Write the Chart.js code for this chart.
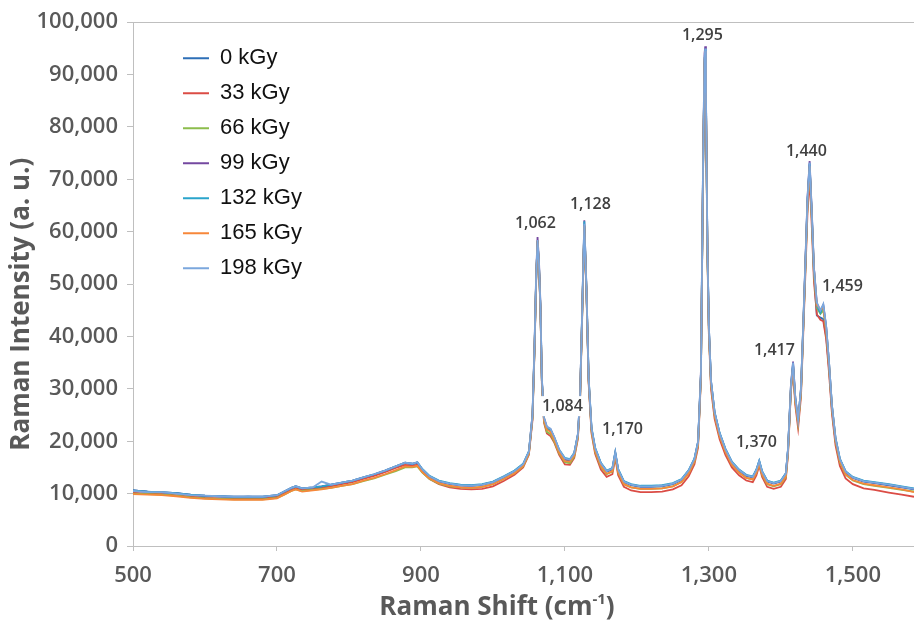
<!DOCTYPE html>
<html>
<head>
<meta charset="utf-8">
<script src="https://cdn.jsdelivr.net/npm/chart.js@4.4.1/dist/chart.umd.min.js"></script>
<style>
html,body{margin:0;padding:0;background:#fff;}
#wrap{width:914px;height:626px;position:relative;}
</style>
</head>
<body>
<div id="wrap"><canvas id="c" width="914" height="626"></canvas></div>
<script>
// ---------- DATA ----------
const ramanShift = [
  500,520,540,560,580,600,620,640,660,680,
  700,710,720,726,735,750,762,775,790,805,
  820,835,850,865,878,888,895,902,912,925,
  940,955,970,985,1000,1015,1030,1042,1050,1055,
  1058,1060,1062,1064,1066,1068,1071,1075,1080,1085,
  1092,1100,1107,1113,1118,1121,1124,1127,1130,1133,
  1137,1142,1150,1158,1166,1170,1174,1182,1192,1205,
  1220,1235,1250,1262,1272,1280,1285,1289,1292,1294,
  1295,1296,1298,1300,1303,1308,1315,1323,1332,1342,
  1352,1361,1366,1370,1374,1381,1390,1400,1407,1410,
  1414,1417,1420,1424,1428,1431,1434,1437,1440,1443,
  1446,1450,1455,1459,1463,1467,1471,1476,1482,1490,
  1500,1515,1530,1550,1568,1585
];

const seriesNames = ['0 kGy','33 kGy','66 kGy','99 kGy','132 kGy','165 kGy','198 kGy'];
const seriesColors = ['#2e6fb7','#db4c45','#8cbd4c','#7448a0','#2aa4cb','#f7873a','#7ba7dd'];

const s0kGy = [
  10600,10400,10200,10100,9700,9500,9500,9300,9400,9300,
  9600,10300,11000,11300,10900,11100,11300,11600,12000,12400,
  13000,13600,14300,15100,15800,15600,15800,14500,13200,12300,
  11800,11600,11500,11700,12200,13100,14300,15500,17800,24500,
  38500,50500,58300,53500,45500,31500,24000,22300,22000,20500,
  18100,16500,16300,17500,21000,27500,44000,61200,48500,31500,
  22300,18500,15700,14200,14600,17600,14500,12200,11600,11300,
  11300,11400,11800,12600,14300,16500,19600,32500,72500,92500,
  94500,85500,56500,41500,31000,25200,21300,18300,15900,14400,
  13400,13100,14400,16000,14100,12300,11900,12300,13700,18300,
  30000,34600,28000,23600,29500,41000,53000,65500,72800,63000,
  52000,44000,43600,43300,40000,33800,26000,20000,16300,14000,
  13000,12300,12000,11600,11200,10800
];
const s33kGy = [
  10200,10000,9900,9700,9400,9200,9100,9100,9000,9100,
  9400,10000,10700,11000,10700,10900,11100,11400,11800,12200,
  12800,13400,14100,14900,15500,15300,15500,14100,12800,11800,
  11200,10900,10800,10900,11400,12400,13600,15000,17400,24000,
  38000,50000,58000,53000,45000,31000,23500,21500,21000,19800,
  17400,15600,15500,16800,20400,27000,43500,60500,48000,31000,
  21500,17600,14600,13200,13700,16800,13500,11300,10600,10300,
  10300,10400,10800,11600,13300,15600,18800,32000,71500,91500,
  93500,84500,55500,40500,30000,24300,20400,17400,15000,13500,
  12500,12200,13500,15300,13200,11300,10900,11300,12800,17500,
  29500,33500,27000,22500,28500,40000,51500,63500,70500,61000,
  50500,44200,43200,42900,39500,33000,25300,19200,15300,12900,
  11800,11000,10700,10200,9800,9400
];
const s66kGy = [
  10000,9900,9800,9600,9300,9100,9000,8900,8900,8900,
  9200,9800,10500,10800,10500,10700,10900,11100,11500,11800,
  12400,12900,13600,14300,15000,15000,15200,14000,12800,11900,
  11400,11200,11100,11300,11800,12800,13900,15200,17600,24500,
  38500,50500,58200,53500,45500,31500,23800,21800,21400,20000,
  17700,16000,15800,17100,20700,27500,44000,61000,48500,31500,
  21900,18000,15100,13700,14200,17200,14000,11800,11200,10900,
  10900,11000,11400,12200,13900,16100,19300,32500,72000,92000,
  94000,85000,56000,41000,30800,24900,21000,18000,15500,14000,
  13000,12700,14000,15700,13600,11800,11400,11800,13200,17900,
  29900,34200,27700,23300,29200,40800,52500,65000,72500,62500,
  52000,45500,44300,45000,41000,34200,26200,20000,16000,13600,
  12500,11800,11500,11100,10700,10400
];
const s99kGy = [
  10600,10400,10300,10100,9800,9600,9500,9400,9400,9400,
  9700,10400,11100,11400,11000,11200,11400,11700,12100,12500,
  13100,13700,14400,15200,15900,15700,16000,14600,13300,12400,
  11900,11600,11500,11700,12200,13200,14300,15600,18000,25200,
  39500,51500,59000,54500,46500,32000,24500,22700,22300,20800,
  18300,16600,16400,17700,21300,28200,44800,62200,49200,32000,
  22400,18600,15800,14300,14800,17900,14600,12300,11700,11400,
  11400,11500,11900,12700,14400,16600,19900,33500,74000,94000,
  95400,86500,57500,42000,31500,25500,21500,18500,16000,14500,
  13500,13200,14500,16200,14200,12400,12000,12400,13900,18600,
  30800,35200,28600,24000,30200,41800,54000,66500,73600,64000,
  53200,46300,44800,46000,41800,34900,26800,20500,16600,14200,
  13100,12400,12100,11700,11300,10900
];
const s132kGy = [
  10600,10400,10300,10100,9800,9600,9500,9400,9400,9400,
  9700,10400,11100,11400,11000,11200,11400,11700,12100,12500,
  13100,13700,14400,15200,15900,15700,16000,14700,13400,12500,
  12000,11700,11600,11800,12300,13300,14400,15700,18100,25000,
  39000,51000,58200,53800,45800,31800,24300,22500,22200,20800,
  18400,16800,16600,17800,21300,28000,44700,62000,49000,32200,
  22600,18800,15900,14400,14900,17900,14700,12400,11800,11500,
  11500,11600,12000,12800,14500,16700,19900,33000,73000,92800,
  94800,86000,57000,42000,31500,25600,21600,18600,16100,14600,
  13600,13300,14600,16300,14300,12500,12100,12500,13900,18500,
  30500,34800,28300,24000,30000,41500,53500,66000,73000,63500,
  53000,45800,44500,45800,41800,34900,26900,20700,16700,14300,
  13200,12500,12200,11800,11400,11000
];
const s165kGy = [
  9900,9800,9700,9500,9200,9000,8900,8800,8800,8800,
  9100,9800,10500,10800,10400,10600,10800,11100,11500,11800,
  12500,13000,13700,14500,15200,15100,15300,14100,12900,12000,
  11500,11200,11100,11300,11800,12800,13900,15300,17700,24700,
  38700,50700,58300,53500,45500,31500,24000,22200,21800,20300,
  17900,16200,16100,17300,20900,27700,44200,61200,48700,31700,
  22000,18200,15300,13800,14300,17300,14100,11800,11200,10900,
  10900,11000,11400,12200,13900,16200,19400,32500,72500,92500,
  94500,85500,56500,41300,30900,25000,21000,18000,15500,14000,
  13000,12700,14000,15700,13700,11900,11500,11900,13300,18000,
  30000,34300,27800,23500,29500,41000,53000,65300,72500,63000,
  52800,46000,45200,45500,41300,34500,26400,20200,16200,13700,
  12600,11900,11600,11200,10800,10300
];
const s198kGy = [
  10500,10300,10300,10000,9700,9600,9500,9400,9400,9400,
  9700,10400,11100,11400,11000,11200,12300,11700,12100,12500,
  13100,13700,14400,15200,15900,15700,16000,14600,13300,12400,
  11900,11600,11500,11700,12200,13200,14300,15600,18000,25000,
  39000,51000,58400,54000,46000,32000,24500,22800,22400,20900,
  18400,16700,16500,17700,21200,28000,44500,61500,49000,32000,
  22500,18700,15800,14300,14800,17800,14600,12300,11700,11400,
  11400,11500,11900,12700,14400,16600,19800,33000,73000,93000,
  95000,86000,57000,42000,31500,25500,21500,18500,16000,14500,
  13500,13200,14500,16200,14200,12400,12000,12400,13800,18500,
  30500,35000,28500,24000,30000,41500,53500,66000,73200,63500,
  53000,46500,45000,46200,42000,35000,26800,20500,16600,14200,
  13100,12400,12100,11700,11300,10900
];

const xTickValues = [500,700,900,1100,1300,1500];
const yTickValues = [0,10000,20000,30000,40000,50000,60000,70000,80000,90000,100000];

const peakLabels = ['1,062','1,084','1,128','1,170','1,295','1,370','1,417','1,440','1,459'];
const peakLabelShift = [1059,1096.5,1135.5,1180,1291,1366,1391,1435.5,1485.5];
const peakLabelIntensity = [61500,26700,65300,22300,97500,19800,37300,75400,49500];

const xTitle = 'Raman Shift (cm';
const xTitleSup = '-1';
const yTitle = 'Raman Intensity (a. u.)';

// ---------- CHART ----------
const seriesValues = [s0kGy, s33kGy, s66kGy, s99kGy, s132kGy, s165kGy, s198kGy];

const datasets = seriesNames.map((name, i) => ({
  label: name,
  data: ramanShift.map((x, j) => ({ x: x, y: seriesValues[i][j] })),
  borderColor: seriesColors[i],
  backgroundColor: seriesColors[i],
  borderWidth: 1.8,
  pointRadius: 0,
  tension: 0,
  order: seriesNames.length - 1 - i
}));

const TICK_FONT = { family: '"Open Sans", sans-serif', size: 22, weight: '600' };
const GREY = '#595959';
const AXIS = '#bfbfbf';

const legendPlacer = {
  id: 'legendPlacer',
  afterLayout(chart) {
    const lg = chart.legend;
    if (!lg) return;
    const ca = chart.chartArea;
    const w = lg.width;
    lg.left = ca.left + 37;
    lg.top = ca.top + 12;
    lg.right = lg.left + w;
    lg.bottom = ca.bottom;
  }
};

const peakAnnotations = {
  id: 'peakAnnotations',
  afterDatasetsDraw(chart) {
    const ctx = chart.ctx;
    const xs = chart.scales.x, ys = chart.scales.y;
    ctx.save();
    ctx.font = '600 16px "Open Sans", sans-serif';
    ctx.textAlign = 'center';
    ctx.textBaseline = 'middle';
    peakLabels.forEach((txt, i) => {
      const px = xs.getPixelForValue(peakLabelShift[i]);
      const py = ys.getPixelForValue(peakLabelIntensity[i]);
      const w = ctx.measureText(txt).width;
      ctx.fillStyle = '#ffffff';
      ctx.fillRect(px - w / 2 - 2, py - 10, w + 4, 20);
      ctx.fillStyle = '#404040';
      ctx.fillText(txt, px, py);
    });
    ctx.restore();
  }
};

const axisTitles = {
  id: 'axisTitles',
  afterDraw(chart) {
    const ctx = chart.ctx;
    const ca = chart.chartArea;
    ctx.save();
    ctx.fillStyle = GREY;
    const mainFont = 'bold 26px "Open Sans", sans-serif';
    const supFont = 'bold 15px "Open Sans", sans-serif';
    ctx.font = mainFont;
    const wMain = ctx.measureText(xTitle).width;
    ctx.font = supFont;
    const wSup = ctx.measureText(xTitleSup).width;
    ctx.font = mainFont;
    const wClose = ctx.measureText(')').width;
    const total = wMain + wSup + wClose;
    const cx = ca.left + 364;
    const baseY = chart.height - 11;
    const x0 = cx - total / 2;
    ctx.textAlign = 'left';
    ctx.textBaseline = 'alphabetic';
    ctx.fillText(xTitle, x0, baseY);
    ctx.font = supFont;
    ctx.fillText(xTitleSup, x0 + wMain, baseY - 11);
    ctx.font = mainFont;
    ctx.fillText(')', x0 + wMain + wSup, baseY);
    ctx.translate(22, ca.top + 282);
    ctx.rotate(-Math.PI / 2);
    ctx.textAlign = 'center';
    ctx.textBaseline = 'middle';
    ctx.fillText(yTitle, 0, 0);
    ctx.restore();
  }
};

new Chart(document.getElementById('c'), {
  type: 'line',
  data: { datasets: datasets },
  options: {
    responsive: false,
    animation: false,
    devicePixelRatio: 1,
    layout: { padding: { top: 21, right: 0, bottom: 0, left: 0 } },
    plugins: {
      legend: {
        position: 'chartArea',
        align: 'start',
        labels: {
          boxWidth: 26,
          boxHeight: 2,
          padding: 13,
          color: '#111111',
          font: { family: '"Liberation Sans", Arial, sans-serif', size: 22 },
          sort: (a, b) => a.datasetIndex - b.datasetIndex,
          generateLabels: (chart) =>
            Chart.defaults.plugins.legend.labels.generateLabels(chart).map(l => Object.assign(l, { lineWidth: 0 }))
        }
      },
      tooltip: { enabled: false }
    },
    scales: {
      x: {
        type: 'linear',
        min: 500,
        max: 1585,
        afterBuildTicks: (s) => { s.ticks = xTickValues.map(v => ({ value: v })); },
        afterFit: (s) => { s.height = 80; s.paddingLeft = 0; s.paddingRight = 0; },
        ticks: {
          font: TICK_FONT, color: GREY, padding: 12, maxRotation: 0, autoSkip: false,
          callback: (v) => Number(v).toLocaleString('en-US')
        },
        grid: { drawOnChartArea: false, tickLength: 5, color: AXIS },
        border: { color: AXIS, width: 1 }
      },
      y: {
        type: 'linear',
        min: 0,
        max: 100000,
        afterBuildTicks: (s) => { s.ticks = yTickValues.map(v => ({ value: v })); },
        afterFit: (s) => { s.width = 133; },
        ticks: {
          font: TICK_FONT, color: GREY, padding: 9, autoSkip: false,
          callback: (v) => Number(v).toLocaleString('en-US')
        },
        grid: {
          drawOnChartArea: true,
          color: (c) => (c.tick && c.tick.value === 100000) ? AXIS : 'rgba(0,0,0,0)',
          tickColor: AXIS,
          tickLength: 6
        },
        border: { color: AXIS, width: 1 }
      }
    }
  },
  plugins: [legendPlacer, peakAnnotations, axisTitles]
});
</script>
</body>
</html>
